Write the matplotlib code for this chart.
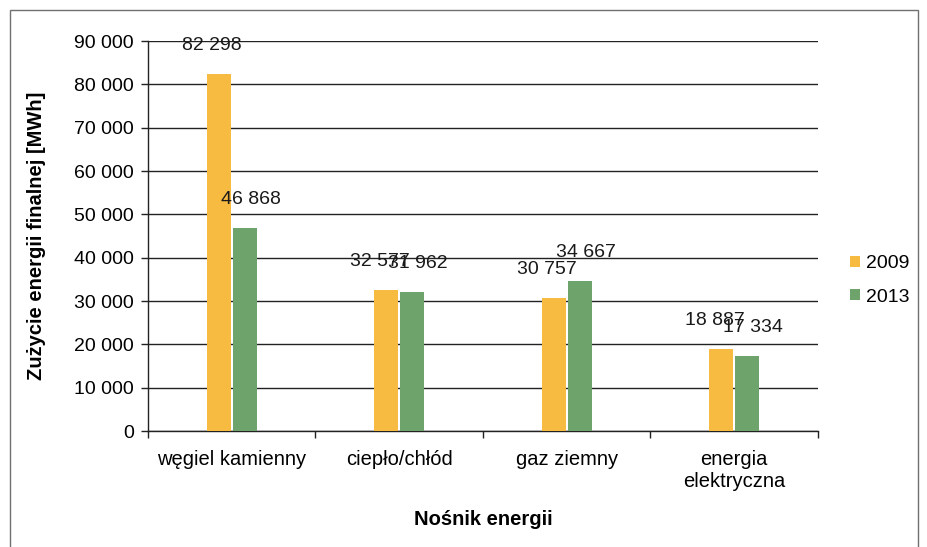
import matplotlib
matplotlib.use("Agg")
import matplotlib.pyplot as plt
import numpy as np
from matplotlib.patches import Rectangle
from matplotlib.ticker import FuncFormatter, FixedLocator

plt.rcParams['font.family'] = ['Liberation Sans', 'DejaVu Sans']

categories = ["węgiel kamienny", "ciepło/chłód", "gaz ziemny", "energia\nelektryczna"]
years = ["2009", "2013"]
values_2009 = [82298, 32577, 30757, 18887]
values_2013 = [46868, 31962, 34667, 17334]
colors = ["#F8BB42", "#6FA36C"]

fig = plt.figure(figsize=(9.28, 5.47), dpi=100)
fig.patches.append(Rectangle((10 / 928, -0.05), 908 / 928, 1 - 10 / 547 + 0.05,
                             transform=fig.transFigure, fill=False,
                             edgecolor="#707070", linewidth=1.0))

ax = fig.add_axes([148 / 928, 1 - 431 / 547, 670 / 928, 390 / 547])

x = np.arange(len(categories))
w = 0.143
gap = 0.012
series = [values_2009, values_2013]
offsets = [-(w + gap) / 2, (w + gap) / 2]
label_dx = [-0.04, 0.035]
for vals, off, col, yr, ldx in zip(series, offsets, colors, years, label_dx):
    ax.bar(x + off, vals, width=w, color=col, label=yr, zorder=3)
    for xi, v in zip(x, vals):
        ax.text(xi + off + ldx, v + 6600, f"{v:,}".replace(",", " "),
                ha="center", va="center", fontsize=14, color="#1a1a1a", zorder=4)

ax.set_xlim(-0.5, len(categories) - 0.5)
ax.set_ylim(0, 90000)
ax.set_yticks(np.arange(0, 90001, 10000))
ax.yaxis.set_major_formatter(FuncFormatter(lambda v, p: f"{int(v):,}".replace(",", " ")))
ax.grid(axis="y", color="#222222", linewidth=1.0, zorder=0)

ax.set_xticks(x)
ax.set_xticklabels(categories, fontsize=14.5)
ax.tick_params(axis="x", length=0, pad=14)
ax.xaxis.set_minor_locator(FixedLocator(np.arange(-0.5, len(categories), 1.0)))
ax.tick_params(axis="x", which="minor", length=5, width=1, color="#222222")
ax.tick_params(axis="y", labelsize=14, length=5, width=1, color="#222222", pad=5)
for lab in ax.get_xticklabels():
    lab.set_linespacing(1.15)

for s in ["top", "right"]:
    ax.spines[s].set_visible(False)
for s in ["left", "bottom"]:
    ax.spines[s].set_color("#222222")
    ax.spines[s].set_linewidth(1.0)

ax.set_ylabel("Zużycie energii finalnej [MWh]", fontsize=14.5, fontweight="bold", labelpad=20)
ax.set_xlabel("Nośnik energii", fontsize=14.5, fontweight="bold", labelpad=14)

ax.legend(loc="center left", bbox_to_anchor=(1.036, 0.386), frameon=False, fontsize=14,
          handlelength=0.5, handleheight=0.5, handletextpad=0.35, labelspacing=0.85,
          borderaxespad=0.0)

fig.savefig("out.png", dpi=100)
